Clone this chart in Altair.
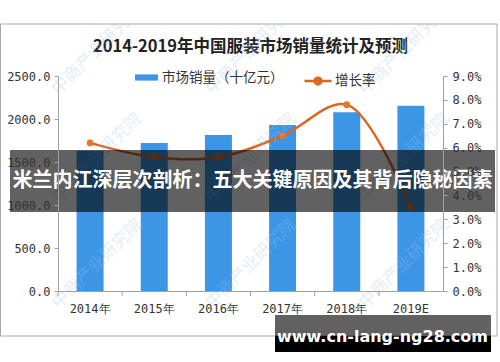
import altair as alt
import pandas as pd

years = ["2014年", "2015年", "2016年", "2017年", "2018年", "2019E"]
sales = [1630, 1720, 1815, 1930, 2078, 2155]
growth = [0.062, 0.056, 0.056, 0.065, 0.078, 0.035]
left_ticks = [0, 500, 1000, 1500, 2000, 2500]
right_ticks = [0.0, 0.01, 0.02, 0.03, 0.04, 0.05, 0.06, 0.07, 0.08, 0.09]
series_bar = "市场销量（十亿元）"
series_line = "增长率"
title_text = "2014-2019年中国服装市场销量统计及预测"
banner_text = "米兰内江深层次剖析：五大关键原因及其背后隐秘因素"
url_text = "www.cn-lang-ng28.com"
watermark_text = "中商产业研究院"
# watermark tile anchors (pixels relative to plot origin)
wm_x = [-3, 151, 304, -3, 151, 304, -3, 151, 304]
wm_y = [16, 16, 16, 124, 124, 124, 230, 230, 230]

BLUE = "#3d95e6"
ORANGE = "#d8661f"
DOT = "#e8772e"
AXIS_FONT = "DejaVu Sans Mono"
CJK = "Noto Sans CJK SC"

df = pd.DataFrame({
    "year": years,
    "sales": sales,
    "growth": growth,
    "s1": [series_bar] * len(years),
    "s2": [series_line] * len(years),
})
one = pd.DataFrame({"a": [0]})
wm = pd.DataFrame({"wx": wm_x, "wy": wm_y, "t": [watermark_text] * len(wm_x)})

band = alt.Scale(paddingInner=0, paddingOuter=0)

xenc = alt.X(
    "year:N", sort=years, title=None, scale=band,
    axis=alt.Axis(labelAngle=0, ticks=False, domainColor="#a0a0a0",
                  labelFont=AXIS_FONT, labelFontSize=12, labelColor="#333",
                  labelPadding=12, zindex=1),
)

bars = alt.Chart(df).mark_bar(size=27).encode(
    x=xenc,
    y=alt.Y("sales:Q", title=None,
            scale=alt.Scale(domain=[0, 2500], nice=False),
            axis=alt.Axis(values=left_ticks, format=".1f", domainColor="#a0a0a0",
                          tickColor="#a0a0a0", tickSize=4, labelPadding=4,
                          labelFont=AXIS_FONT, labelFontSize=12, labelColor="#333",
                          grid=False, zindex=1)),
    fill=alt.Fill("s1:N", scale=alt.Scale(range=[BLUE]),
                  legend=alt.Legend(orient="none", legendX=77, legendY=-10, title=None,
                                    symbolType="M-1,-0.27L1,-0.27L1,0.27L-1,0.27Z",
                                    symbolSize=529, symbolStrokeWidth=0,
                                    labelFont=CJK, labelFontSize=13.5, labelColor="#333",
                                    labelOffset=4, padding=0)),
)

right_axis = alt.Axis(orient="right", values=right_ticks, format=".1%",
                      domainColor="#a0a0a0", tickColor="#a0a0a0", tickSize=4,
                      labelPadding=5, labelFont=AXIS_FONT, labelFontSize=12,
                      labelColor="#333", grid=False, zindex=1)
gscale = alt.Scale(domain=[0, 0.09], nice=False)

line = alt.Chart(df).mark_line(interpolate="catmull-rom", strokeWidth=2.5).encode(
    x=alt.X("year:N", sort=years),
    y=alt.Y("growth:Q", title=None, scale=gscale, axis=right_axis),
    stroke=alt.Stroke("s2:N", scale=alt.Scale(range=[ORANGE]),
                      legend=alt.Legend(orient="none", legendX=245, legendY=-10, title=None,
                                        symbolType="M-1,0L1,0M-0.25,0A0.25,0.25,0,1,1,0.25,0A0.25,0.25,0,1,1,-0.25,0Z",
                                        symbolSize=729, symbolStrokeWidth=2.5,
                                        symbolFillColor=DOT,
                                        labelFont=CJK, labelFontSize=13.5, labelColor="#333",
                                        labelOffset=2, padding=0)),
)
points = alt.Chart(df).mark_point(filled=True, size=45, color=DOT, opacity=1).encode(
    x=alt.X("year:N", sort=years),
    y=alt.Y("growth:Q", title=None, scale=gscale, axis=right_axis),
)

ticks = alt.Chart(df).mark_rule(color="#a0a0a0").encode(
    x=alt.X("year:N", sort=years, bandPosition=0, scale=band, axis=None),
    y=alt.value(215), y2=alt.value(220),
)

title_t = alt.Chart(one).mark_text(
    text=title_text, font=CJK, fontSize=16.5, fontWeight="bold", color="#222",
    align="center", baseline="middle"
).encode(x=alt.value(192.5), y=alt.value(-29.5))

watermarks = alt.Chart(wm).mark_text(
    font=CJK, fontSize=17, color="#9fc4e4", opacity=0.3, angle=315,
    align="left", baseline="middle"
).encode(
    x=alt.X("wx:Q", scale=None, axis=None), y=alt.Y("wy:Q", scale=None, axis=None), text="t:N"
)

# white area above the outer frame hides watermark overflow
mask = alt.Chart(one).mark_rect(color="white").encode(
    x=alt.value(-58), x2=alt.value(442), y=alt.value(-76), y2=alt.value(-52)
)
frame = alt.Chart(one).mark_rect(filled=False, stroke="#aaaaaa", strokeWidth=1).encode(
    x=alt.value(-57.5), x2=alt.value(439), y=alt.value(-52), y2=alt.value(260)
)

banner = alt.Chart(one).mark_rect(color="black", opacity=0.62).encode(
    x=alt.value(-48), x2=alt.value(437), y=alt.value(74), y2=alt.value(136)
)
banner_t = alt.Chart(one).mark_text(
    text=banner_text, font=CJK, fontSize=20, fontWeight="bold", color="white",
    align="center", baseline="middle"
).encode(x=alt.value(194.5), y=alt.value(105))

url_box1 = alt.Chart(one).mark_rect(color="black", opacity=0.62).encode(
    x=alt.value(217), x2=alt.value(433), y=alt.value(239), y2=alt.value(260)
)
url_box2 = alt.Chart(one).mark_rect(color="black").encode(
    x=alt.value(217), x2=alt.value(433), y=alt.value(260), y2=alt.value(276)
)
url_t = alt.Chart(one).mark_text(
    text=url_text, font="DejaVu Sans", fontSize=16, fontWeight="bold", color="white",
    align="center", baseline="middle"
).encode(x=alt.value(324.5), y=alt.value(260.5))

main = alt.layer(bars, alt.layer(line, points)).resolve_scale(y="independent", fill="independent", stroke="independent")

chart = alt.layer(
    title_t, main, ticks, watermarks, mask, frame, banner, banner_t, url_box1, url_box2, url_t
).resolve_scale(y="independent", x="independent").properties(
    width=385, height=215,
    autosize=alt.AutoSizeParams(type="none"),
    padding={"left": 58, "top": 76, "right": 57, "bottom": 71},
    background="white",
).configure_view(strokeOpacity=0)

chart.save("out.html", embed_options={"renderer": "svg", "actions": False})
